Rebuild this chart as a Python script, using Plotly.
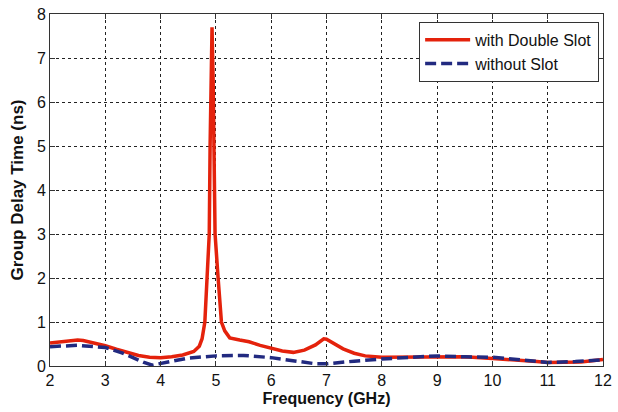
import plotly.graph_objects as go

# Red: with Double Slot
freq_red = [2.0, 2.2, 2.4, 2.5, 2.6, 2.8, 3.0, 3.2, 3.4, 3.6, 3.8, 4.0, 4.2, 4.4, 4.6, 4.7,
            4.75, 4.80, 4.84, 4.88, 4.895, 4.91, 4.93, 4.95, 4.965, 4.975, 4.985, 5.04, 5.10, 5.16,
            5.25, 5.43, 5.6, 5.8, 6.0, 6.2, 6.4, 6.6, 6.8, 6.95, 7.0, 7.1, 7.3, 7.5,
            7.7, 8.0, 8.5, 9.0, 9.5, 10.0, 10.3, 10.6, 10.8, 11.0, 11.3, 11.6, 11.8, 12.0]
delay_red = [0.52, 0.55, 0.58, 0.59, 0.58, 0.53, 0.46, 0.38, 0.30, 0.24, 0.20, 0.19, 0.21, 0.25, 0.33, 0.45,
             0.62, 1.00, 2.00, 3.00, 5.00, 6.60, 7.70, 6.50, 5.20, 4.00, 3.00, 2.00, 1.00, 0.80,
             0.64, 0.59, 0.55, 0.47, 0.40, 0.34, 0.31, 0.36, 0.48, 0.62, 0.61, 0.53, 0.39, 0.29,
             0.23, 0.20, 0.20, 0.21, 0.21, 0.17, 0.15, 0.12, 0.10, 0.08, 0.08, 0.09, 0.12, 0.15]

# Blue: without Slot
freq_blue = [2.0, 2.5, 3.0, 3.3, 3.5, 3.7, 3.85, 4.0, 4.2, 4.5, 5.0, 5.5, 6.0, 6.3, 6.5, 6.8,
             7.0, 7.2, 7.5, 8.0, 8.5, 9.0, 9.5, 10.0, 10.5, 11.0, 11.5, 12.0]
delay_blue = [0.44, 0.47, 0.42, 0.30, 0.19, 0.08, 0.02, 0.06, 0.12, 0.18, 0.23, 0.24, 0.19, 0.13, 0.09, 0.05,
              0.05, 0.08, 0.11, 0.16, 0.20, 0.23, 0.21, 0.20, 0.14, 0.08, 0.10, 0.14]

FONT = "Liberation Sans, Arial"

fig = go.Figure()
fig.add_trace(go.Scatter(x=freq_red, y=delay_red, mode="lines", name="with Double Slot",
                         line=dict(color="#e4220c", width=3.5)))
fig.add_trace(go.Scatter(x=freq_blue, y=delay_blue, mode="lines", name="without Slot",
                         line=dict(color="#222a80", width=3.5, dash="11px,5px")))

axis_common = dict(showline=True, linecolor="#333333", linewidth=1, mirror="ticks",
                   ticks="inside", ticklen=5, tickcolor="#333333", automargin=False,
                   showgrid=True, gridcolor="#222222", gridwidth=1, griddash="3px,3px",
                   zeroline=False, tickfont=dict(family=FONT, size=16, color="#111111"))

fig.update_layout(
    width=618, height=412,
    margin=dict(l=50, r=15, t=14, b=46),
    paper_bgcolor="white", plot_bgcolor="white",
    xaxis=dict(range=[2, 12], dtick=1,
               title=dict(text="<b>Frequency (GHz)</b>", standoff=4,
                          font=dict(family=FONT, size=16, color="#111111")),
               **axis_common),
    yaxis=dict(range=[0, 8], dtick=1,
               title=dict(text="<b>Group Delay Time (ns)</b>", standoff=8,
                          font=dict(family=FONT, size=17, color="#111111")),
               **axis_common),
    legend=dict(x=0.993, y=0.978, xanchor="right", yanchor="top",
                bgcolor="white", bordercolor="#333333", borderwidth=1,
                font=dict(family=FONT, size=16, color="#111111"),
                tracegroupgap=0, itemwidth=45),
    showlegend=True,
)

fig.write_html("out.html")
